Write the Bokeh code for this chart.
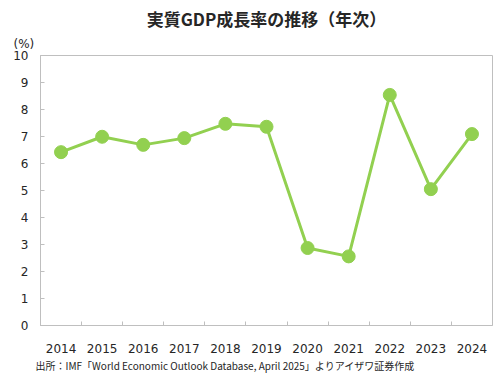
from bokeh.plotting import figure
from bokeh.models import Range1d, FixedTicker, Title
from bokeh.embed import file_html
from bokeh.resources import INLINE

years = [2014, 2015, 2016, 2017, 2018, 2019, 2020, 2021, 2022, 2023, 2024]
growth = [6.42, 6.99, 6.69, 6.94, 7.47, 7.36, 2.87, 2.56, 8.54, 5.05, 7.09]
y_ticks = [0, 1, 2, 3, 4, 5, 6, 7, 8, 9, 10]
title_text = "実質GDP成長率の推移（年次）"
unit_text = "(%)"
source_text = "出所：IMF「World Economic Outlook Database, April 2025」よりアイザワ証券作成"

GREEN = "#92d050"
GRID = "#bfbfbf"
TXT = "#262626"

p = figure(width=500, height=384, output_backend="svg", toolbar_location=None,
           x_range=Range1d(years[0] - 0.5, years[-1] + 0.5), y_range=Range1d(0, 10),
           min_border_left=40, min_border_right=8, min_border_top=55, min_border_bottom=59)

p.title.text = title_text
p.title.text_font = "Noto Sans CJK JP"
p.title.text_font_size = "17px"
p.title.text_font_style = "bold"
p.title.text_color = TXT
p.title.align = "center"
p.title.standoff = 0

unit = Title(text=unit_text, align="left", offset=-27, text_font="DejaVu Sans",
             text_font_size="12px", text_font_style="normal", text_color=TXT, standoff=9)
p.add_layout(unit, "above")

p.xgrid.visible = False
p.ygrid.visible = False
p.outline_line_color = GRID
p.outline_line_width = 1
p.background_fill_color = "white"
p.border_fill_color = "white"

p.line(years, growth, line_color=GREEN, line_width=3)
p.scatter(years, growth, size=13, fill_color=GREEN, line_color=GREEN)

ya = p.yaxis[0]
ya.ticker = FixedTicker(ticks=y_ticks)
ya.axis_line_color = GRID
ya.major_tick_line_color = GRID
ya.major_tick_in = 4
ya.major_tick_out = 0
ya.minor_tick_line_color = None
ya.major_label_text_font = "DejaVu Sans"
ya.major_label_text_font_size = "12px"
ya.major_label_text_color = TXT
ya.major_label_standoff = 12

xa = p.xaxis[0]
xa.ticker = FixedTicker(ticks=years, minor_ticks=[y + 0.5 for y in years[:-1]])
xa.axis_line_color = GRID
xa.major_tick_line_color = None
xa.minor_tick_line_color = GRID
xa.minor_tick_in = 4
xa.minor_tick_out = 0
xa.major_label_text_font = "DejaVu Sans"
xa.major_label_text_font_size = "12px"
xa.major_label_text_color = TXT
xa.major_label_standoff = 12

src = Title(text=source_text, align="left", offset=-5, text_font="Noto Sans CJK JP",
            text_font_size="10px", text_font_style="normal", text_color=TXT, standoff=0)
p.add_layout(src, "below")

open("out.html", "w").write(file_html(p, INLINE))
